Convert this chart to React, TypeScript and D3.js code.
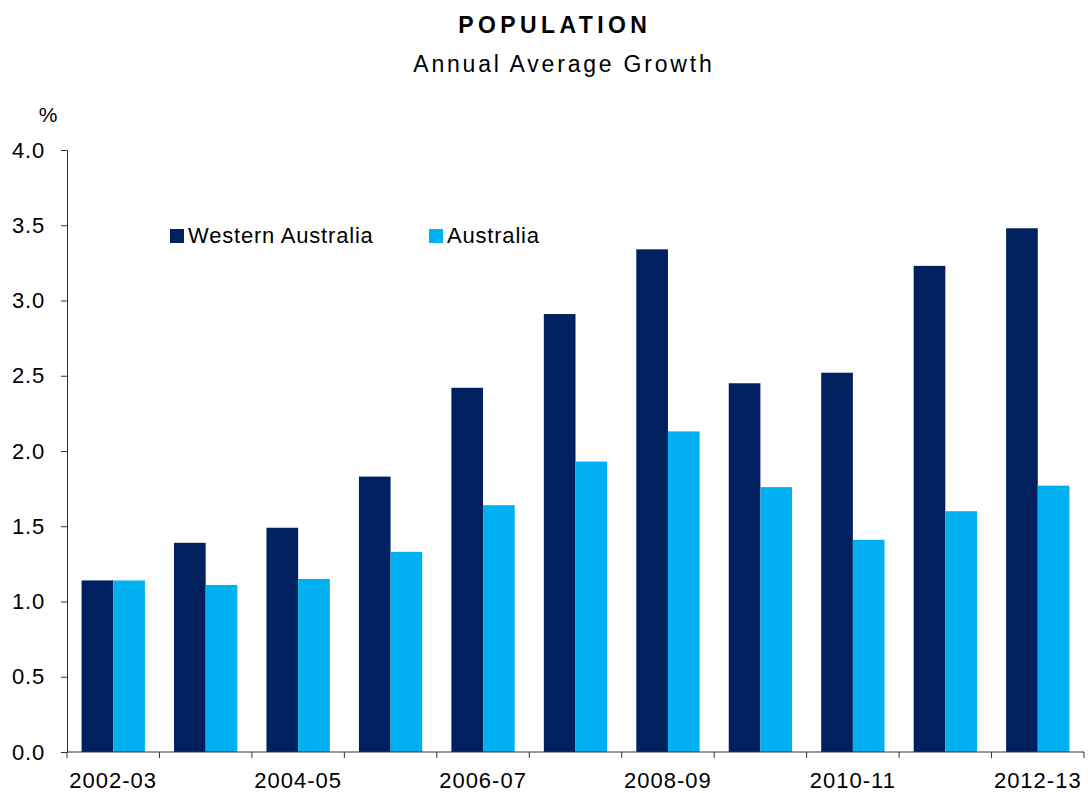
import React, { useEffect, useRef } from "react";
import * as d3 from "d3";

const years = [
  "2002-03", "2003-04", "2004-05", "2005-06", "2006-07", "2007-08",
  "2008-09", "2009-10", "2010-11", "2011-12", "2012-13"
];
const westernAustralia = [1.14, 1.39, 1.49, 1.83, 2.42, 2.91, 3.34, 2.45, 2.52, 3.23, 3.48];
const australia = [1.14, 1.11, 1.15, 1.33, 1.64, 1.93, 2.13, 1.76, 1.41, 1.60, 1.77];
const seriesNames = ["Western Australia", "Australia"];
const yTicks = [0, 0.5, 1, 1.5, 2, 2.5, 3, 3.5, 4];
const labelledYears = ["2002-03", "2004-05", "2006-07", "2008-09", "2010-11", "2012-13"];

const colors = {
  "Western Australia": "#002060",
  Australia: "#00b0f0"
};

const W = 1088;
const H = 793;
const FONT = "Liberation Sans, Arial, sans-serif";

const App = () => {
  const ref = useRef<SVGSVGElement>(null);

  useEffect(() => {
    const svg = d3.select(ref.current);
    svg.selectAll("*").remove();

    const left = 67;
    const right = 1084;
    const top = 150;
    const bottom = 752;

    const x = d3.scaleBand().domain(years).range([left, right]).padding(0);
    const inner = d3
      .scaleBand()
      .domain(seriesNames)
      .range([0, x.bandwidth()])
      .paddingInner(0)
      .paddingOuter(0.46);
    const y = d3.scaleLinear().domain([0, 4]).range([bottom, top]);

    const rows = years.map((yr, i) => ({
      year: yr,
      values: [
        { key: "Western Australia", value: westernAustralia[i] },
        { key: "Australia", value: australia[i] }
      ]
    }));

    // titles (letter-spacing adds a trailing gap, so nudge x by half of it)
    svg
      .append("text")
      .attr("x", 552.5 + 2.2)
      .attr("y", 33)
      .attr("text-anchor", "middle")
      .attr("font-family", FONT)
      .attr("font-weight", "bold")
      .attr("font-size", 23)
      .attr("letter-spacing", 4.4)
      .text("POPULATION");
    svg
      .append("text")
      .attr("x", 562.5 + 1.4)
      .attr("y", 72)
      .attr("text-anchor", "middle")
      .attr("font-family", FONT)
      .attr("font-size", 23)
      .attr("letter-spacing", 2.8)
      .text("Annual Average Growth");

    // bars
    const g = svg
      .append("g")
      .selectAll("g")
      .data(rows)
      .join("g")
      .attr("transform", d => `translate(${x(d.year)},0)`);
    g.selectAll("rect")
      .data(d => d.values)
      .join("rect")
      .attr("x", d => inner(d.key)!)
      .attr("width", inner.bandwidth())
      .attr("y", d => y(d.value))
      .attr("height", d => y(0) - y(d.value))
      .attr("fill", d => colors[d.key]);

    // y axis
    const yAxis = svg
      .append("g")
      .attr("transform", `translate(${left},0)`)
      .call(d3.axisLeft(y).tickValues(yTicks).tickSize(6).tickPadding(16).tickFormat(d3.format(".1f")));
    yAxis.select(".domain").attr("stroke", "#333");
    yAxis.selectAll(".tick line").attr("stroke", "#333");
    yAxis
      .selectAll(".tick text")
      .attr("font-family", FONT)
      .attr("font-size", 22)
      .attr("letter-spacing", 0.8)
      .attr("fill", "#000");

    svg
      .append("text")
      .attr("x", 48)
      .attr("y", 122)
      .attr("text-anchor", "middle")
      .attr("font-family", FONT)
      .attr("font-size", 21)
      .text("%");

    // x axis
    const xAxis = svg.append("g").attr("transform", `translate(0,${bottom})`);
    xAxis
      .append("line")
      .attr("x1", left)
      .attr("x2", right)
      .attr("stroke", "#333");
    xAxis
      .selectAll("line.tk")
      .data([...years.map(d => x(d)!), right])
      .join("line")
      .attr("class", "tk")
      .attr("x1", d => d)
      .attr("x2", d => d)
      .attr("y1", 0)
      .attr("y2", 6)
      .attr("stroke", "#333");
    xAxis
      .selectAll("text")
      .data(labelledYears)
      .join("text")
      .attr("x", d => x(d)! + x.bandwidth() / 2)
      .attr("y", 36)
      .attr("text-anchor", "middle")
      .attr("font-family", FONT)
      .attr("font-size", 22)
      .attr("letter-spacing", 1)
      .text(d => d);

    // legend
    const legendX = [170, 429];
    const legend = svg
      .append("g")
      .selectAll("g")
      .data(seriesNames)
      .join("g")
      .attr("transform", (_, i) => `translate(${legendX[i]},229)`);
    legend
      .append("rect")
      .attr("width", 14)
      .attr("height", 14)
      .attr("fill", d => colors[d]);
    legend
      .append("text")
      .attr("x", 18)
      .attr("y", 14)
      .attr("font-family", FONT)
      .attr("font-size", 22)
      .attr("letter-spacing", 0.8)
      .text(d => d);
  }, []);

  return <svg ref={ref} width={W} height={H} style={{ position: "absolute", left: 0, top: 0, background: "#fff" }} />;
};

export default App;
